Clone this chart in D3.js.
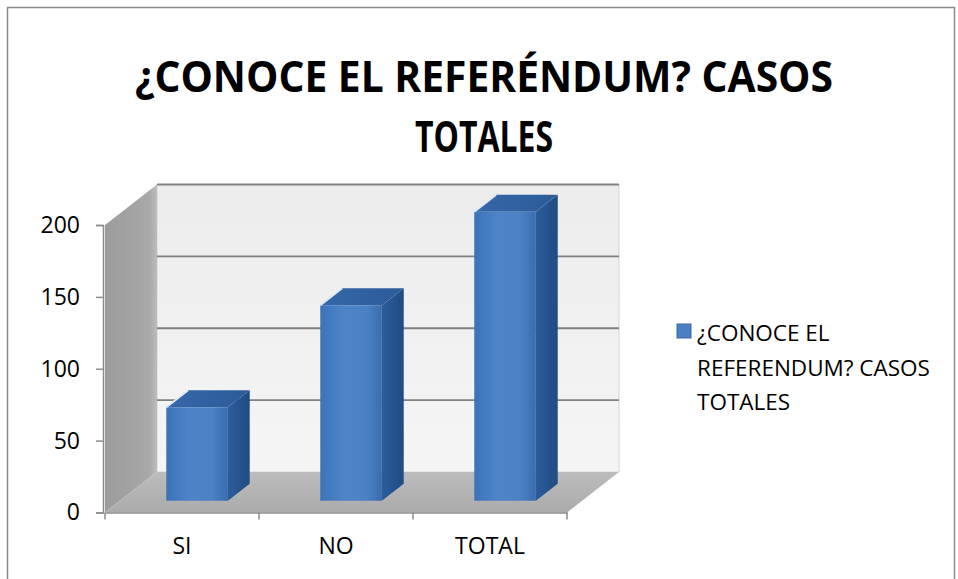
<!DOCTYPE html>
<html>
<head>
<meta charset="utf-8">
<script src="https://cdn.jsdelivr.net/npm/d3@7"></script>
<style>
  body { margin: 0; background: #fff; }
  text { font-family: "Open Sans", "DejaVu Sans", sans-serif; fill: #000; }
</style>
</head>
<body>
<div id="wrapper"></div>
<script>
// chart values
var categories = ["SI", "NO", "TOTAL"];
var values = [65, 136, 201];
var yTicks = [0, 50, 100, 150, 200];
var titleLines = ["¿CONOCE EL REFERÉNDUM? CASOS", "TOTALES"];
var legendLines = ["¿CONOCE EL", "REFERENDUM? CASOS", "TOTALES"];

var width = 958, height = 579;

// depth offset of the 3d box (full depth)
var DX = 52, DY = -40.5;

var svg = d3.select("#wrapper").append("svg")
    .attr("width", width)
    .attr("height", height);

var defs = svg.append("defs");
function grad(id, stops, x2, y2) {
  var g = defs.append("linearGradient").attr("id", id)
    .attr("x1", 0).attr("y1", 0).attr("x2", x2).attr("y2", y2);
  stops.forEach(function (s) {
    g.append("stop").attr("offset", s[0]).attr("stop-color", s[1]);
  });
}
grad("gBack", [[0, "#ececec"], [1, "#f5f5f5"]], 0, 1);
grad("gSide", [[0, "#9c9c9c"], [0.85, "#a8a8a8"], [1, "#bcbcbc"]], 1, 0);
grad("gFloor", [[0, "#bcbcbc"], [1, "#ababab"]], 0, 1);
grad("gFront", [[0, "#3c72b8"], [0.35, "#4d84c8"], [0.75, "#4b82c5"], [1, "#3a6cae"]], 1, 0);
grad("gSideBar", [[0, "#2b5d9c"], [1, "#214b82"]], 1, 0);
grad("gTop", [[0, "#3667a8"], [1, "#2c5b99"]], 1, 0);

// outer border
svg.append("rect")
    .attr("x", 7.5).attr("y", 7.5)
    .attr("width", 947).attr("height", 600)
    .attr("fill", "none")
    .attr("stroke", "#8a8a8a")
    .attr("stroke-width", 1.5);

// scales
var x = d3.scaleBand()
    .domain(categories)
    .range([105, 567]);

var y = d3.scaleLinear()
    .domain([0, 200])
    .range([512.5, 225]);

function proj(px, v, z) {
  return [px + z * DX, y(v) + z * DY];
}
function poly(pts) {
  return "M" + pts.map(function (p) { return p[0] + "," + p[1]; }).join("L") + "Z";
}

var x0 = x.range()[0], x1 = x.range()[1];
var yMax = y.domain()[1];

// back wall
svg.append("path")
    .attr("d", poly([proj(x0, 0, 1), proj(x0, yMax, 1), proj(x1, yMax, 1), proj(x1, 0, 1)]))
    .attr("fill", "url(#gBack)")
    .attr("stroke", "#d4d4d4");

// side wall
svg.append("path")
    .attr("d", poly([proj(x0, 0, 0), proj(x0, yMax, 0), proj(x0, yMax, 1), proj(x0, 0, 1)]))
    .attr("fill", "url(#gSide)");

// floor
svg.append("path")
    .attr("d", poly([proj(x0, 0, 0), proj(x1, 0, 0), proj(x1, 0, 1), proj(x0, 0, 1)]))
    .attr("fill", "url(#gFloor)");

// gridlines on back wall
svg.selectAll(".grid")
    .data(yTicks.filter(function (d) { return d > 0; }))
  .enter().append("line")
    .attr("class", "grid")
    .attr("x1", x0 + DX).attr("x2", x1 + DX)
    .attr("y1", function (d) { return y(d) + DY; })
    .attr("y2", function (d) { return y(d) + DY; })
    .attr("stroke", "#808080")
    .attr("stroke-width", 1.8);

// bars
var bw = x.bandwidth() * 0.4;
var z0 = 0.29, z1 = 0.71;
var bars = svg.selectAll(".bar")
    .data(categories.map(function (c, i) { return {cat: c, value: values[i]}; }))
  .enter().append("g")
    .attr("class", "bar");

function bl(d) { return x(d.cat) + (x.bandwidth() - bw) / 2; }

bars.append("path")
    .attr("d", function (d) {
      var l = bl(d) + bw;
      return poly([proj(l, 0, z0), proj(l, d.value, z0), proj(l, d.value, z1), proj(l, 0, z1)]);
    })
    .attr("fill", "url(#gSideBar)");

bars.append("path")
    .attr("d", function (d) {
      var l = bl(d);
      return poly([proj(l, d.value, z0), proj(l + bw, d.value, z0), proj(l + bw, d.value, z1), proj(l, d.value, z1)]);
    })
    .attr("fill", "url(#gTop)");

bars.append("path")
    .attr("d", function (d) {
      var l = bl(d);
      return poly([proj(l, 0, z0), proj(l, d.value, z0), proj(l + bw, d.value, z0), proj(l + bw, 0, z0)]);
    })
    .attr("fill", "url(#gFront)");

// bevel highlight on top-left edge
bars.append("line")
    .attr("x1", function (d) { return proj(bl(d), d.value, z0)[0]; })
    .attr("y1", function (d) { return proj(bl(d), d.value, z0)[1]; })
    .attr("x2", function (d) { return proj(bl(d), d.value, z1)[0]; })
    .attr("y2", function (d) { return proj(bl(d), d.value, z1)[1]; })
    .attr("stroke", "#dfe9f5")
    .attr("stroke-width", 2);

// y axis
var yAxis = svg.append("g")
    .attr("transform", "translate(103,0)")
    .call(d3.axisLeft(y).tickValues(yTicks).tickSize(7).tickPadding(16));
yAxis.select(".domain").attr("stroke", "#8c8c8c").attr("stroke-width", 1.5);
yAxis.selectAll(".tick line").attr("stroke", "#8c8c8c").attr("stroke-width", 1.5);
yAxis.selectAll(".tick text")
    .style("font-family", "'Open Sans', sans-serif")
    .style("font-size", "23px")
    .attr("fill", "#000");

// x axis
var xAxis = svg.append("g")
    .attr("transform", "translate(0," + y(0) + ")")
    .call(d3.axisBottom(x).tickSize(0).tickPadding(25));
xAxis.select(".domain").attr("stroke", "#8c8c8c").attr("stroke-width", 1.5);
xAxis.selectAll(".tick text")
    .style("font-family", "'Open Sans', sans-serif")
    .style("font-size", "23px")
    .attr("fill", "#000");

// category boundary ticks
var edges = categories.map(function (c) { return x(c); }).concat([x1]);
svg.selectAll(".xtick")
    .data(edges)
  .enter().append("line")
    .attr("x1", function (d) { return d; }).attr("x2", function (d) { return d; })
    .attr("y1", y(0)).attr("y2", y(0) + 7)
    .attr("stroke", "#8c8c8c")
    .attr("stroke-width", 1.5);

// title
svg.selectAll(".title")
    .data(titleLines)
  .enter().append("text")
    .attr("class", "title")
    .attr("x", 484)
    .attr("y", function (d, i) { return 92 + i * 60; })
    .attr("text-anchor", "middle")
    .style("font-weight", "bold")
    .style("font-size", "43px")
    .attr("textLength", function (d, i) { return i === 0 ? 698 : 138; })
    .attr("lengthAdjust", "spacingAndGlyphs")
    .text(function (d) { return d; });

// legend
svg.append("rect")
    .attr("x", 677).attr("y", 324)
    .attr("width", 14).attr("height", 14)
    .attr("fill", "#4a7fc1")
    .attr("stroke", "#3a67a3");

svg.selectAll(".legend")
    .data(legendLines)
  .enter().append("text")
    .attr("class", "legend")
    .attr("x", 697)
    .attr("y", function (d, i) { return 341 + i * 34.5; })
    .style("font-size", "22.5px")
    .text(function (d) { return d; });
</script>
</body>
</html>
